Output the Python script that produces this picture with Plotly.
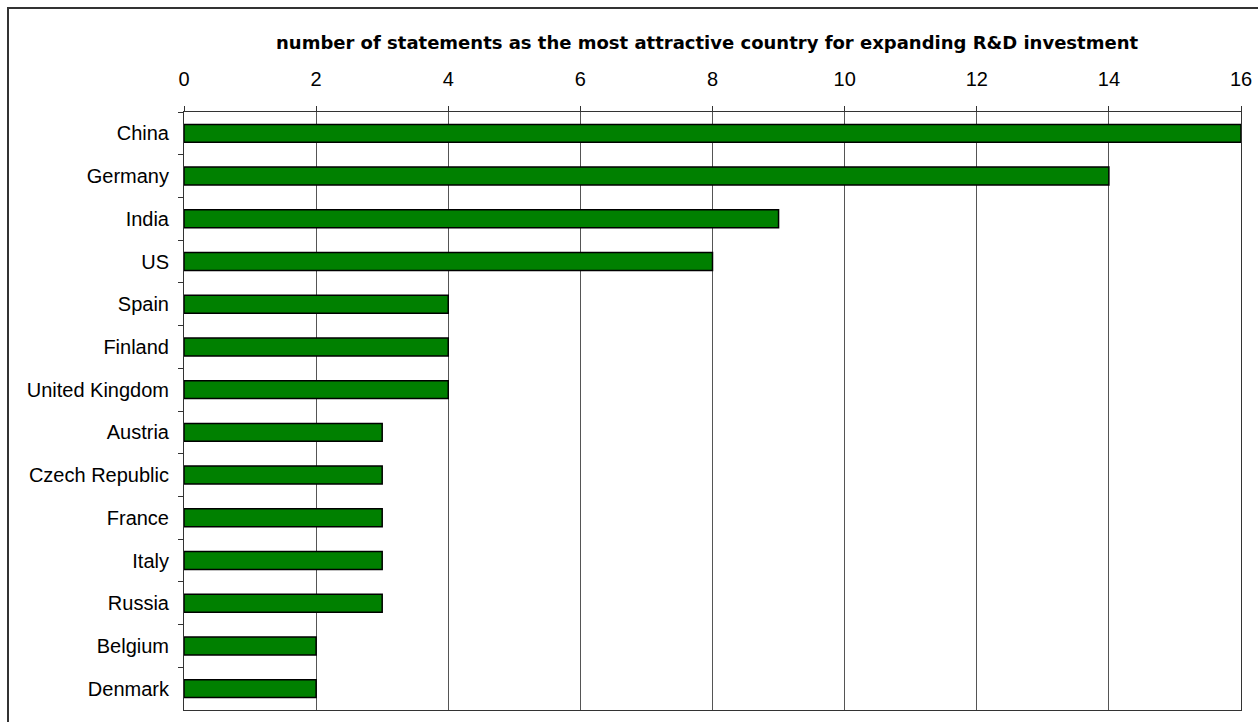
import plotly.graph_objects as go

countries = ["China", "Germany", "India", "US", "Spain", "Finland", "United Kingdom",
             "Austria", "Czech Republic", "France", "Italy", "Russia", "Belgium", "Denmark"]
statements = [16, 14, 9, 8, 4, 4, 4, 3, 3, 3, 3, 3, 2, 2]
x_ticks = [0, 2, 4, 6, 8, 10, 12, 14, 16]
title_text = "number of statements as the most attractive country for expanding R&D investment"

W, H = 1258, 722
L, R, T, B = 184, 1241, 112, 710

fig = go.Figure(go.Bar(
    y=countries, x=statements, orientation="h",
    marker=dict(color="#008000", line=dict(color="#000000", width=1.5)),
    hoverinfo="x+y",
))

pw, ph = R - L, B - T
def px(x): return (x - L) / pw
def py(y): return (B - y) / ph

fig.update_layout(
    width=W, height=H,
    margin=dict(l=L, r=W - R, t=T, b=H - B, autoexpand=False),
    paper_bgcolor="white", plot_bgcolor="white",
    bargap=0.58, showlegend=False,
    font=dict(family="Liberation Sans, Arial, sans-serif", size=20, color="#000000"),
    xaxis=dict(
        side="top", range=[0, 16], tickvals=x_ticks, ticktext=[str(v) for v in x_ticks],
        showgrid=True, gridcolor="#555555", gridwidth=1,
        showline=True, linecolor="#333333", linewidth=1, mirror=True,
        ticks="outside", ticklen=5, tickcolor="#333333", tickwidth=1,
        ticklabelstandoff=12, zeroline=False, fixedrange=True,
    ),
    yaxis=dict(
        categoryorder="array", categoryarray=countries, autorange="reversed",
        showline=True, linecolor="#333333", linewidth=1, mirror=True,
        ticks="outside", ticklen=5, tickcolor="#333333", tickwidth=1,
        tickson="boundaries", ticklabelstandoff=10, showgrid=False, fixedrange=True,
    ),
    annotations=[dict(
        text="<b>" + title_text + "</b>", xref="paper", yref="paper",
        x=px(707), y=py(42), xanchor="center", yanchor="middle", showarrow=False,
        font=dict(size=18, family="DejaVu Sans, sans-serif"),
    )],
    shapes=[dict(
        type="rect", xref="paper", yref="paper",
        x0=px(8), x1=px(1275), y0=py(740), y1=py(8),
        line=dict(color="#333333", width=2), fillcolor="rgba(0,0,0,0)", layer="below",
    )],
)

fig.write_html("out.html", config={"displayModeBar": False})
with open("out.html", "r", encoding="utf-8") as f:
    html = f.read()
html = html.replace("<body>", '<body style="margin:0;padding:0;overflow:hidden">', 1)
with open("out.html", "w", encoding="utf-8") as f:
    f.write(html)
